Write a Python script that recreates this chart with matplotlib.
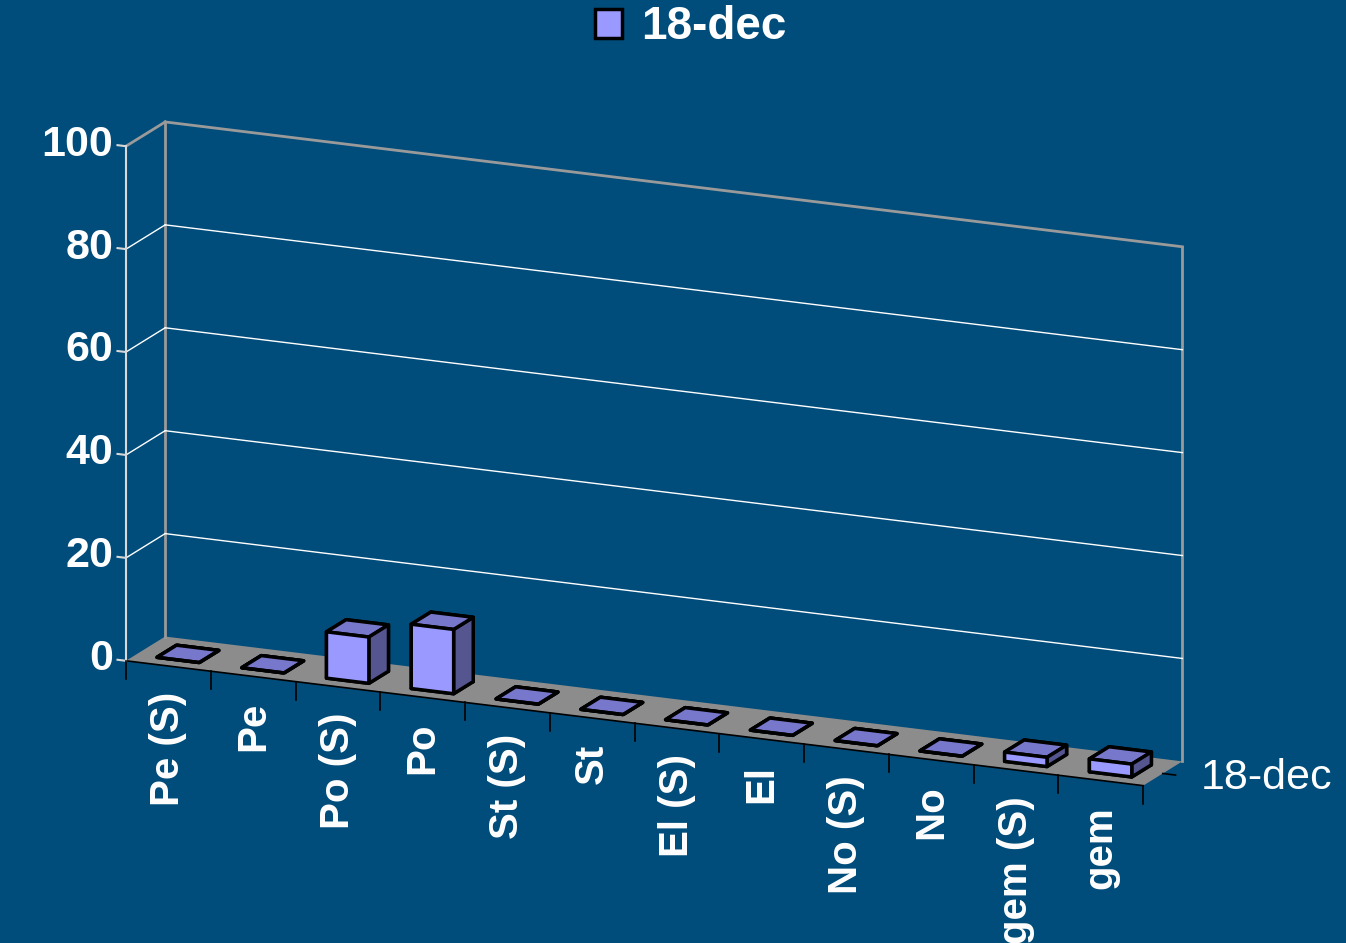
import matplotlib
matplotlib.use("Agg")
import matplotlib.pyplot as plt
import numpy as np
from matplotlib.patches import Patch
from mpl_toolkits.mplot3d.art3d import Poly3DCollection

plt.rcParams['font.family'] = ['Liberation Sans', 'DejaVu Sans']

# data
categories = ['Pe (S)', 'Pe', 'Po (S)', 'Po', 'St (S)', 'St', 'El (S)', 'El',
              'No (S)', 'No', 'gem (S)', 'gem']
values = [0, 0, 9, 12.5, 0, 0, 0, 0, 0, 0, 1.8, 2.5]
series_name = '18-dec'
z_ticks = [0, 20, 40, 60, 80, 100]

bg = '#004C7A'
bar_front = '#9999FF'
bar_top = '#7777CC'
bar_side = '#55558F'

fig = plt.figure(figsize=(13.46, 9.43), dpi=100, facecolor=bg)
# 3d axes get squared, so make the square big enough for the whole box
ax = fig.add_axes([-0.0275, -0.214, 1.0, 1.427], projection='3d', proj_type='ortho')
ax.set_facecolor(bg)
ax.computed_zorder = False
ax.view_init(elev=16, azim=-66)
n = len(categories)
ax.set_xlim(0, n)
ax.set_ylim(0, 1)
ax.set_zlim(0, 100)
ax.set_box_aspect((10.4, 0.9, 5.0), zoom=0.894)
ax.set_axis_off()

# floor
floor = Poly3DCollection([[(0, 0, 0), (n, 0, 0), (n, 1, 0), (0, 1, 0)]],
                         facecolor='#8C8C8C', edgecolor='none', zorder=1)
ax.add_collection3d(floor)
ax.plot([0, n], [0, 0], [0, 0], color='black', lw=1.2, zorder=2)

# walls outline and gridlines
wall = '#9A9A9A'
ax.plot([0, 0], [1, 1], [0, 100], color=wall, lw=2, zorder=2)
ax.plot([0, n], [1, 1], [100, 100], color=wall, lw=2, zorder=2)
ax.plot([n, n], [1, 1], [0, 100], color=wall, lw=2, zorder=2)
ax.plot([0, 0], [0, 1], [100, 100], color=wall, lw=2, zorder=2)
for v in z_ticks[1:-1]:
    ax.plot([0, n], [1, 1], [v, v], color='white', lw=1, zorder=2)
    ax.plot([0, 0], [0, 1], [v, v], color='white', lw=1, zorder=2)

# z axis
ax.plot([0, 0], [0, 0], [0, 100], color='#D8D8D8', lw=1.5, zorder=2)
for v in z_ticks:
    ax.plot([0, -0.1], [0, 0], [v, v], color='#D8D8D8', lw=1.5, zorder=2)
    ax.text(-0.15, 0, v, str(v), color='white', fontsize=31, fontweight='bold',
            ha='right', va='center', zorder=4)

# category ticks and labels
for i in range(n + 1):
    ax.plot([i, i], [0, 0], [0, -3.5], color='black', lw=1.2, zorder=2)
for i, c in enumerate(categories):
    ax.text(i + 0.5, 0, -5, c, 'z', color='white', fontsize=29,
            fontweight='bold', ha='center', va='top', zorder=4)

# series label on depth axis
ax.plot([n, n + 0.15], [0.5, 0.5], [0, 0], color='black', lw=1.2, zorder=2)
ax.text(n + 0.45, 0.5, 0, series_name, color='white', fontsize=31,
        ha='left', va='center', zorder=4)

# bars
xs = np.arange(n) + 0.25
face_colors = [bar_top, bar_top, bar_front, bar_front, bar_side, bar_side] * n
ax.bar3d(xs, np.full(n, 0.25), np.zeros(n), 0.5, 0.5, values,
         color=face_colors, edgecolor='black', linewidth=2.5, shade=False,
         zorder=3)

fig.legend(handles=[Patch(facecolor=bar_front, edgecolor='black', lw=2.5)],
           labels=[series_name], loc='center', bbox_to_anchor=(0.513, 0.971),
           frameon=False, prop={'size': 33, 'weight': 'bold'},
           labelcolor='white', handlelength=0.6, handleheight=0.6,
           handletextpad=0.4)

fig.savefig('out.png', dpi=100, facecolor=bg)
